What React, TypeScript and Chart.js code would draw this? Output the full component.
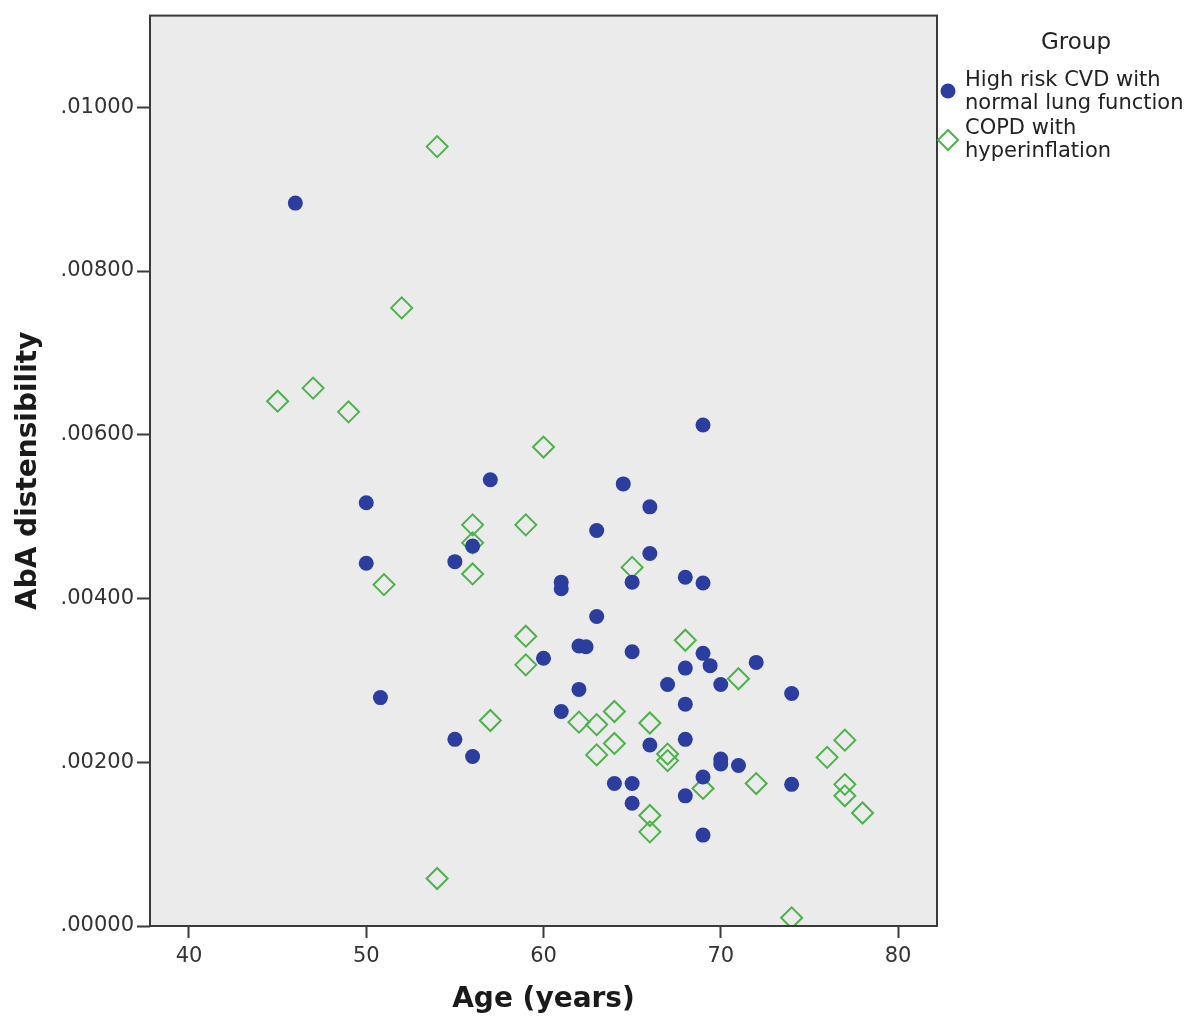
import { useEffect, useRef } from "react";
import { Chart, registerables } from "chart.js";

Chart.register(...registerables);

const legendTitle = "Group";
const seriesLabels = ["High risk CVD with normal lung function", "COPD with hyperinflation"];
const legendLines = [
  ["High risk CVD with", "normal lung function"],
  ["COPD with", "hyperinflation"],
];
const xTitle = "Age (years)";
const yTitle = "AbA distensibility";

const highRiskAge = [
  46, 50, 50, 50.8, 55, 55, 56, 56, 57, 60, 61, 61, 61, 62, 62, 62.4, 63, 63, 64, 64.5,
  65, 65, 65, 65, 66, 66, 66, 67, 68, 68, 68, 68, 68, 69, 69, 69, 69.4, 69, 69, 70, 70,
  70, 71, 72, 74, 74,
];
const highRiskDist = [
  0.00883, 0.00517, 0.00443, 0.00279, 0.00445, 0.00228, 0.00464, 0.00207, 0.00545, 0.00327,
  0.0042, 0.00412, 0.00262, 0.00289, 0.00342, 0.00341, 0.00483, 0.00378, 0.00174, 0.0054,
  0.0042, 0.00335, 0.00174, 0.0015, 0.00512, 0.00455, 0.00221, 0.00295, 0.00426, 0.00315,
  0.00271, 0.00228, 0.00159, 0.00612, 0.00419, 0.00333, 0.00318, 0.00182, 0.00111, 0.00295,
  0.00204, 0.00198, 0.00196, 0.00322, 0.00284, 0.00173,
];

const copdAge = [
  45, 47, 49, 51, 52, 54, 54, 56, 56, 56, 57, 59, 59, 59, 60, 62, 63, 63, 64, 64, 65, 66,
  66, 66, 67, 67, 68, 69, 71, 72, 74, 76, 77, 77, 77, 78,
];
const copdDist = [
  0.00641, 0.00657, 0.00628, 0.00417, 0.00755, 0.00952, 0.00058, 0.0049, 0.00468, 0.0043,
  0.00251, 0.0049, 0.00354, 0.00319, 0.00585, 0.00249, 0.00246, 0.00209, 0.00262, 0.00223,
  0.00438, 0.00248, 0.00135, 0.00115, 0.0021, 0.00202, 0.00349, 0.00168, 0.00302, 0.00174,
  0.0001, 0.00206, 0.00227, 0.00173, 0.00159, 0.00138,
];

const xTickValues = [40, 50, 60, 70, 80];
const yTickValues = [0, 0.002, 0.004, 0.006, 0.008, 0.01];

const BLUE = "#2b3d9f";
const GREEN = "#4cb24a";

export default function App() {
  const ref = useRef<HTMLCanvasElement | null>(null);

  useEffect(() => {
    if (!ref.current) return;
    const toPoints = (xs: number[], ys: number[]) => xs.map((x, i) => ({ x, y: ys[i] }));

    const framePlugin = {
      id: "frame",
      beforeDraw(chart: any) {
        const { ctx, chartArea: a } = chart;
        ctx.save();
        ctx.fillStyle = "#ebebeb";
        ctx.fillRect(a.left, a.top, a.right - a.left, a.bottom - a.top);
        ctx.restore();
      },
      afterDraw(chart: any) {
        const { ctx, chartArea: a } = chart;
        ctx.save();
        ctx.strokeStyle = "#3a3a3a";
        ctx.lineWidth = 2;
        ctx.strokeRect(a.left, a.top, a.right - a.left, a.bottom - a.top);

        // axis titles
        ctx.fillStyle = "#1a1a1a";
        ctx.font = "bold 28px 'DejaVu Sans'";
        ctx.textAlign = "center";
        ctx.textBaseline = "middle";
        ctx.fillText(xTitle, (a.left + a.right) / 2, 1000);
        ctx.save();
        ctx.translate(29, (a.top + a.bottom) / 2);
        ctx.rotate(-Math.PI / 2);
        ctx.fillText(yTitle, 0, 0);
        ctx.restore();

        // legend
        ctx.font = "23px 'DejaVu Sans'";
        ctx.fillStyle = "#222";
        ctx.fillText(legendTitle, 1076, 43);
        ctx.font = "21px 'DejaVu Sans'";
        ctx.textAlign = "left";
        const lineY = [
          [81, 104],
          [129, 152],
        ];
        legendLines.forEach((lines, i) => {
          lines.forEach((t, j) => ctx.fillText(t, 965, lineY[i][j]));
        });
        ctx.fillStyle = BLUE;
        ctx.beginPath();
        ctx.arc(948, 91, 7.5, 0, Math.PI * 2);
        ctx.fill();
        ctx.strokeStyle = GREEN;
        ctx.lineWidth = 2;
        ctx.beginPath();
        ctx.moveTo(938, 140);
        ctx.lineTo(948, 130);
        ctx.lineTo(958, 140);
        ctx.lineTo(948, 150);
        ctx.closePath();
        ctx.stroke();
        ctx.restore();
      },
    };

    const chart = new Chart(ref.current, {
      type: "scatter",
      data: {
        datasets: [
          {
            label: seriesLabels[0],
            data: toPoints(highRiskAge, highRiskDist),
            pointStyle: "circle",
            pointRadius: 7.5,
            pointBackgroundColor: BLUE,
            pointBorderColor: BLUE,
            pointBorderWidth: 0,
          },
          {
            label: seriesLabels[1],
            data: toPoints(copdAge, copdDist),
            pointStyle: "rectRot",
            pointRadius: 10.5,
            pointBackgroundColor: "rgba(0,0,0,0)",
            pointBorderColor: GREEN,
            pointBorderWidth: 2,
          },
        ],
      },
      options: {
        responsive: false,
        animation: false,
        layout: { padding: { top: 14, right: 263, left: 0, bottom: 0 } },
        plugins: {
          legend: { display: false },
          tooltip: { enabled: false },
        },
        scales: {
          x: {
            type: "linear",
            min: 37.8,
            max: 82.2,
            afterBuildTicks: (s: any) => {
              s.ticks = xTickValues.map((v) => ({ value: v }));
            },
            afterFit: (s: any) => {
              s.height = 103;
            },
            border: { display: false },
            grid: {
              drawOnChartArea: false,
              drawTicks: true,
              tickLength: 12,
              tickColor: "#3a3a3a",
              tickWidth: 2,
            },
            ticks: {
              padding: 6,
              color: "#333",
              font: { family: "'DejaVu Sans'", size: 21 },
              maxRotation: 0,
              callback: (v: any) => String(v),
            },
          },
          y: {
            type: "linear",
            min: 0,
            max: 0.01112,
            afterBuildTicks: (s: any) => {
              s.ticks = yTickValues.map((v) => ({ value: v }));
            },
            afterFit: (s: any) => {
              s.width = 150;
            },
            border: { display: false },
            grid: {
              drawOnChartArea: false,
              drawTicks: true,
              tickLength: 13,
              tickColor: "#3a3a3a",
              tickWidth: 2,
            },
            ticks: {
              padding: 3,
              color: "#333",
              font: { family: "'DejaVu Sans'", size: 21 },
              callback: (v: any) => "." + Number(v).toFixed(5).split(".")[1],
            },
          },
        },
      },
      plugins: [framePlugin],
    });
    return () => chart.destroy();
  }, []);

  return (
    <div style={{ position: "absolute", left: 0, top: 0, width: 1200, height: 1029, background: "#fff" }}>
      <canvas ref={ref} width={1200} height={1029} style={{ width: 1200, height: 1029, display: "block" }} />
    </div>
  );
}
